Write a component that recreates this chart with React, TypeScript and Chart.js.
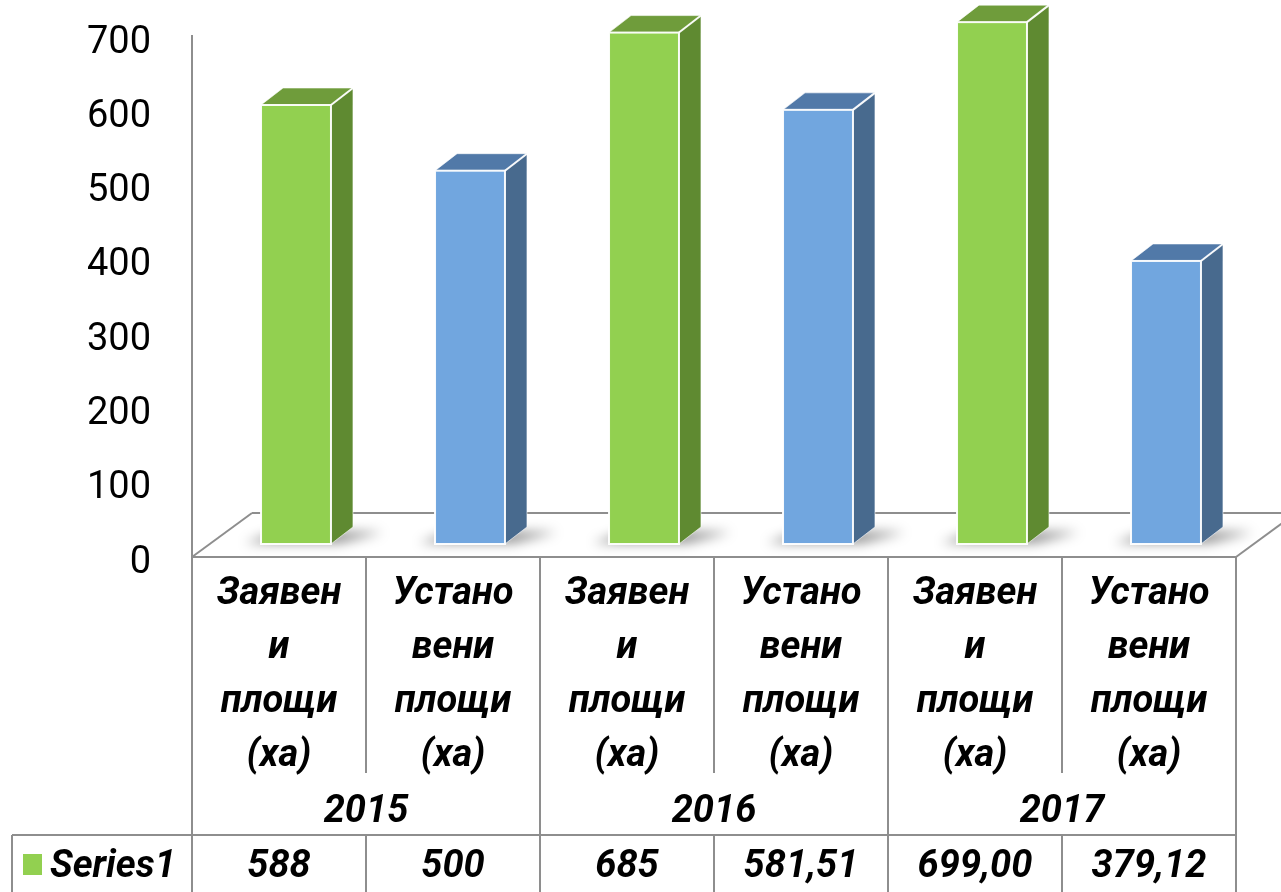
import { useEffect, useRef } from 'react';
import { Chart, registerables } from 'chart.js';

Chart.register(...registerables);

const categories: string[][] = [
  ['Заявен', 'и', 'площи', '(ха)'],
  ['Устано', 'вени', 'площи', '(ха)'],
  ['Заявен', 'и', 'площи', '(ха)'],
  ['Устано', 'вени', 'площи', '(ха)'],
  ['Заявен', 'и', 'площи', '(ха)'],
  ['Устано', 'вени', 'площи', '(ха)'],
];
const years = ['2015', '2016', '2017'];
const seriesName = 'Series1';
const values = [588, 500, 685, 581.51, 699.0, 379.12];
const valueLabels = ['588', '500', '685', '581,51', '699,00', '379,12'];

const frontColors = ['#92D050', '#71A6DF', '#92D050', '#71A6DF', '#92D050', '#71A6DF'];
const sideColors = ['#5F8A31', '#486A8E', '#5F8A31', '#486A8E', '#5F8A31', '#486A8E'];
const topColors = ['#6F9C3B', '#5179A8', '#6F9C3B', '#5179A8', '#6F9C3B', '#5179A8'];

const FONT = 'Roboto, "Noto Sans", sans-serif';
const GRID = '#8E8E8E';
const DX = 22;
const DY = -17;
const FDX = 60;
const FDY = -44;

function poly(ctx: CanvasRenderingContext2D, pts: number[][]) {
  ctx.beginPath();
  ctx.moveTo(pts[0][0], pts[0][1]);
  for (let i = 1; i < pts.length; i++) ctx.lineTo(pts[i][0], pts[i][1]);
  ctx.closePath();
}

function line(ctx: CanvasRenderingContext2D, x1: number, y1: number, x2: number, y2: number) {
  ctx.beginPath();
  ctx.moveTo(x1, y1);
  ctx.lineTo(x2, y2);
  ctx.stroke();
}

const threeD = {
  id: 'threeD',
  beforeDatasetsDraw(chart: any) {
    const ctx: CanvasRenderingContext2D = chart.ctx;
    const { left, right, bottom } = chart.chartArea;
    const fy = bottom - 2;
    ctx.save();
    ctx.strokeStyle = GRID;
    ctx.lineWidth = 2;
    line(ctx, left, 35, left, chart.height);
    line(ctx, left, fy, left + FDX, fy + FDY);
    line(ctx, left + FDX, fy + FDY, chart.width + 20, fy + FDY);
    line(ctx, right, fy, right + FDX, fy + FDY);
    // shadows
    const meta = chart.getDatasetMeta(0);
    ctx.filter = 'blur(6px)';
    ctx.fillStyle = 'rgba(0,0,0,0.45)';
    meta.data.forEach((bar: any) => {
      const { x, base, width } = bar.getProps(['x', 'base', 'width'], true);
      const l = x - width / 2;
      const r = x + width / 2;
      poly(ctx, [
        [l - 16, base - 1],
        [r + 8, base - 1],
        [r + DX + 30, base + DY + 5],
        [l + DX - 6, base + DY + 5],
      ]);
      ctx.fill();
    });
    ctx.restore();
  },
  afterDatasetsDraw(chart: any) {
    const ctx: CanvasRenderingContext2D = chart.ctx;
    const meta = chart.getDatasetMeta(0);
    ctx.save();
    meta.data.forEach((bar: any, i: number) => {
      const { x, y, base, width } = bar.getProps(['x', 'y', 'base', 'width'], true);
      const l = x - width / 2;
      const r = x + width / 2;
      ctx.fillStyle = sideColors[i];
      poly(ctx, [[r, y], [r + DX, y + DY], [r + DX, base + DY], [r, base]]);
      ctx.fill();
      ctx.fillStyle = topColors[i];
      poly(ctx, [[l, y], [l + DX, y + DY], [r + DX, y + DY], [r, y]]);
      ctx.fill();
      ctx.strokeStyle = 'rgba(255,255,255,0.95)';
      ctx.lineWidth = 2;
      ctx.strokeRect(l, y, width, base - y);
      line(ctx, r, y, r + DX, y + DY);
      ctx.strokeStyle = 'rgba(255,255,255,0.6)';
      ctx.lineWidth = 1;
      line(ctx, l, y, l + DX, y + DY);
      line(ctx, l + DX, y + DY, r + DX, y + DY);
      line(ctx, r + DX, y + DY, r + DX, base + DY);
      line(ctx, r, base, r + DX, base + DY);
    });
    ctx.restore();
  },
  afterDraw(chart: any) {
    const ctx: CanvasRenderingContext2D = chart.ctx;
    const { left, right, bottom } = chart.chartArea;
    const colW = (right - left) / categories.length;
    const top = bottom - 2;
    const yearTop = 773;
    const rowTop = 835;
    const H = chart.height;
    ctx.save();
    ctx.strokeStyle = GRID;
    ctx.lineWidth = 2;
    line(ctx, left, top, right, top);
    for (let k = 0; k <= categories.length; k++) {
      const xx = left + k * colW;
      if (k % 2 === 0) {
        line(ctx, xx, top, xx, H);
      } else {
        line(ctx, xx, top, xx, yearTop);
        line(ctx, xx, rowTop, xx, H);
      }
    }
    line(ctx, 12, rowTop, right, rowTop);
    line(ctx, 12, rowTop, 12, H);

    ctx.fillStyle = '#000';
    ctx.textAlign = 'center';
    ctx.textBaseline = 'middle';
    ctx.font = `italic bold 38px ${FONT}`;
    years.forEach((yr, j) => {
      ctx.fillText(yr, left + (2 * j + 1) * colW, 812);
    });
    valueLabels.forEach((v, i) => {
      ctx.fillText(v, left + (i + 0.5) * colW, 867);
    });
    ctx.textAlign = 'left';
    ctx.fillText(seriesName, 50, 867);
    ctx.fillStyle = frontColors[0];
    ctx.fillRect(23, 854, 19, 21);
    ctx.restore();
  },
};

export default function App() {
  const ref = useRef<HTMLCanvasElement | null>(null);
  useEffect(() => {
    document.body.style.margin = '0';
    document.body.style.overflow = 'hidden';
    const canvas = ref.current;
    if (!canvas) return;
    const shift = 17 / 174;
    const chart = new Chart(canvas, {
      type: 'bar',
      data: {
        labels: categories,
        datasets: [
          {
            label: seriesName,
            data: values.map((v, i) => ({ x: i, y: v })),
            xAxisID: 'x2',
            yAxisID: 'y2',
            backgroundColor: frontColors,
            borderWidth: 0,
            barPercentage: 0.402,
            categoryPercentage: 1,
            clip: false,
          } as any,
        ],
      },
      options: {
        animation: false,
        responsive: false,
        events: [],
        layout: { padding: { top: 39, right: 45, left: 0, bottom: 0 } },
        plugins: { legend: { display: false }, tooltip: { enabled: false } },
        scales: {
          x: {
            type: 'category',
            position: 'bottom',
            offset: true,
            grid: { display: false, drawTicks: false },
            border: { display: false },
            ticks: {
              font: { family: FONT, size: 38, weight: 'bold', style: 'italic', lineHeight: 1.42 },
              color: '#000',
              padding: 9,
              maxRotation: 0,
              autoSkip: false,
            },
            afterFit: (s: any) => {
              s.height = 333;
            },
          },
          x2: {
            type: 'linear',
            display: false,
            offset: false,
            grid: { offset: false },
            min: -0.5 - shift,
            max: 5.5 - shift,
          },
          y: {
            type: 'linear',
            position: 'left',
            min: 0,
            max: 700,
            ticks: {
              stepSize: 100,
              font: { family: FONT, size: 38 },
              color: '#000',
              padding: 41,
              labelOffset: 4,
            },
            grid: { display: false, drawTicks: false },
            border: { display: false },
            afterFit: (s: any) => {
              s.width = 192;
              s.paddingTop = 0;
              s.paddingBottom = 0;
            },
          },
          y2: { type: 'linear', display: false, min: -20.1, max: 676.4 },
        } as any,
      },
      plugins: [threeD],
    });
    return () => chart.destroy();
  }, []);
  return (
    <div style={{ width: 1281, height: 892 }}>
      <canvas ref={ref} width={1281} height={892} style={{ display: 'block' }} />
    </div>
  );
}
